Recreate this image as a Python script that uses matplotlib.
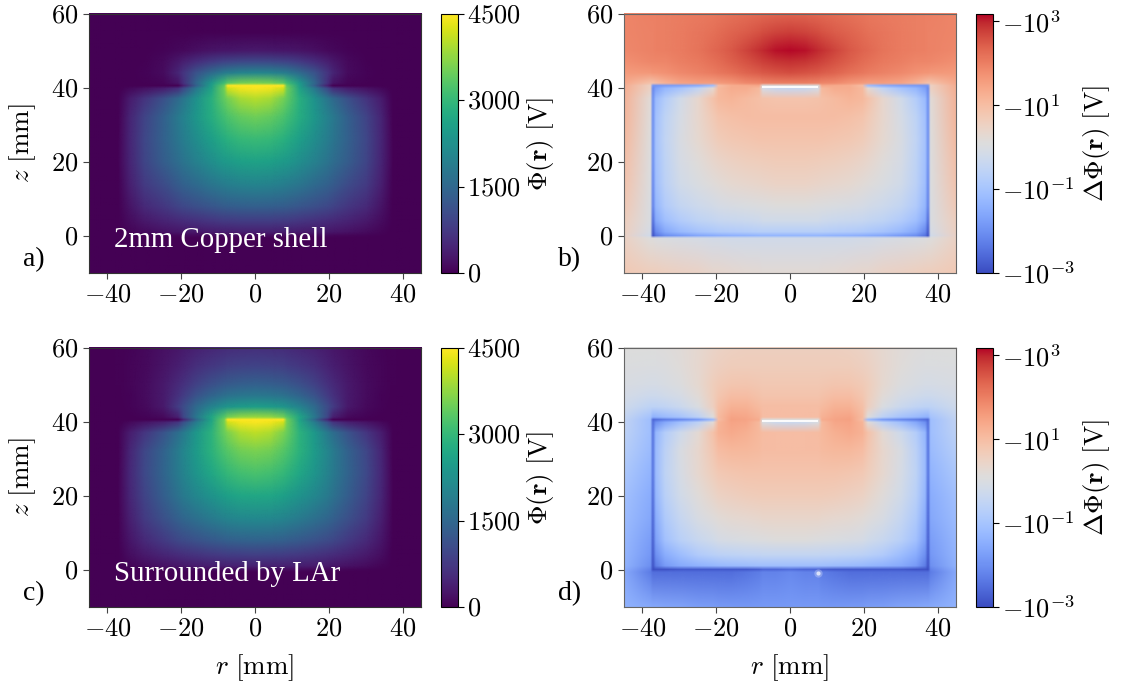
import numpy as np
import matplotlib
matplotlib.use("Agg")
import matplotlib.pyplot as plt
from matplotlib.colors import LogNorm, Normalize
from matplotlib.image import NonUniformImage

plt.rcParams['mathtext.fontset'] = 'cm'
plt.rcParams['font.family'] = 'Liberation Serif'

# grid nodes (r mirrored about 0), outer nodes just past the axes
r_nodes = [0, 4, 7.5, 8.5, 12, 16, 19.5, 21, 25, 30, 34, 36.5, 37.3, 38, 46]
z_nodes = [-11, -0.7, 0, 1, 4, 8, 14, 20, 26, 32, 37, 39.8, 40.5, 41.2, 44, 47, 50, 55, 61]

# potential [V], rows follow z_nodes, columns follow r_nodes
phi_a = [
    [0, 0, 0, 0, 0, 0, 0, 0, 0, 0, 0, 0, 0, 0, 0],
    [0, 0, 0, 0, 0, 0, 0, 0, 0, 0, 0, 0, 0, 0, 0],
    [130, 130, 125, 120, 110, 100, 90, 80, 60, 40, 18, 4, 0, 0, 0],
    [400, 395, 385, 380, 350, 315, 285, 265, 215, 140, 65, 15, 0, 0, 0],
    [820, 810, 790, 775, 720, 650, 580, 540, 440, 300, 155, 45, 0, 0, 0],
    [1400, 1380, 1340, 1320, 1230, 1100, 990, 920, 730, 530, 260, 70, 0, 0, 0],
    [2050, 2020, 1950, 1910, 1770, 1580, 1410, 1310, 1050, 780, 390, 105, 0, 0, 0],
    [2600, 2560, 2460, 2410, 2220, 1970, 1740, 1610, 1320, 940, 470, 125, 0, 0, 0],
    [3050, 2990, 2850, 2780, 2520, 2210, 1900, 1750, 1400, 950, 490, 130, 0, 0, 0],
    [3500, 3420, 3220, 3120, 2780, 2380, 2000, 1820, 1380, 930, 470, 120, 0, 0, 0],
    [4000, 3900, 3560, 3400, 2820, 2300, 1760, 1550, 1100, 680, 340, 85, 0, 0, 0],
    [4450, 4400, 4200, 3500, 2600, 1800, 1000, 600, 350, 200, 100, 20, 0, 0, 0],
    [4500, 4500, 4500, 3400, 2500, 1400, 400, 30, 20, 10, 5, 0, 0, 0, 0],
    [3600, 3550, 3350, 3100, 2400, 1500, 650, 250, 60, 20, 5, 0, 0, 0, 0],
    [2050, 2010, 1900, 1830, 1550, 1150, 700, 460, 140, 40, 8, 0, 0, 0, 0],
    [1000, 980, 930, 900, 770, 590, 390, 290, 120, 30, 5, 0, 0, 0, 0],
    [300, 295, 280, 270, 230, 180, 120, 90, 50, 15, 0, 0, 0, 0, 0],
    [10, 10, 10, 10, 8, 6, 5, 4, 2, 0, 0, 0, 0, 0, 0],
    [0, 0, 0, 0, 0, 0, 0, 0, 0, 0, 0, 0, 0, 0, 0],
]

phi_c = [
    [0, 0, 0, 0, 0, 0, 0, 0, 0, 0, 0, 0, 0, 0, 0],
    [0, 0, 0, 0, 0, 0, 0, 0, 0, 0, 0, 0, 0, 0, 0],
    [150, 150, 145, 140, 130, 115, 100, 90, 70, 45, 20, 5, 0, 0, 0],
    [420, 415, 405, 400, 370, 335, 300, 280, 225, 150, 70, 18, 0, 0, 0],
    [850, 840, 820, 800, 750, 680, 610, 570, 460, 320, 170, 50, 0, 0, 0],
    [1450, 1430, 1390, 1370, 1280, 1160, 1040, 970, 770, 540, 280, 80, 0, 0, 0],
    [2150, 2120, 2050, 2010, 1870, 1680, 1500, 1400, 1110, 780, 400, 110, 0, 0, 0],
    [2700, 2660, 2560, 2510, 2320, 2080, 1830, 1700, 1340, 930, 480, 130, 0, 0, 0],
    [3200, 3140, 3000, 2920, 2660, 2340, 2020, 1860, 1450, 990, 510, 135, 0, 0, 0],
    [3600, 3520, 3320, 3220, 2880, 2470, 2070, 1880, 1420, 960, 480, 120, 0, 0, 0],
    [4050, 3950, 3620, 3460, 2900, 2400, 1850, 1620, 1150, 720, 360, 90, 0, 0, 0],
    [4450, 4400, 4200, 3550, 2700, 1900, 1100, 700, 400, 230, 110, 20, 0, 0, 0],
    [4500, 4500, 4500, 3500, 2600, 1550, 500, 40, 30, 15, 8, 0, 0, 0, 0],
    [3800, 3750, 3550, 3300, 2650, 1800, 950, 400, 120, 50, 15, 5, 0, 0, 0],
    [2500, 2460, 2350, 2280, 2000, 1550, 1050, 800, 300, 110, 40, 15, 8, 8, 0],
    [1800, 1770, 1700, 1650, 1450, 1150, 800, 650, 320, 130, 50, 20, 15, 15, 0],
    [1400, 1370, 1300, 1260, 1100, 880, 640, 530, 300, 140, 55, 25, 20, 20, 0],
    [900, 880, 850, 820, 730, 600, 450, 380, 240, 120, 55, 25, 20, 20, 0],
    [550, 540, 520, 500, 450, 380, 300, 260, 180, 100, 50, 25, 20, 20, 0],
]

# log10 of the potential difference, same layout
dphi_b = [
    [.25, .25, .25, .27, .3, .35, .4, .4, .5, .55, .6, .65, .65, .65, .75],
    [-.2, -.2, -.2, -.2, -.2, -.2, -.15, -.15, -.1, -.05, 0, .05, .1, .1, .55],
    [-1.3, -1.3, -1.3, -1.3, -1.35, -1.4, -1.45, -1.5, -1.6, -1.8, -2, -2.4, -2.9, -.2, .55],
    [-.7, -.7, -.7, -.7, -.75, -.8, -.85, -.9, -1, -1.25, -1.6, -2.1, -2.8, -.1, .6],
    [-.2, -.2, -.2, -.25, -.3, -.35, -.4, -.45, -.55, -.8, -1.1, -1.6, -2.5, 0, .65],
    [.1, .1, .05, .05, 0, -.05, -.1, -.15, -.25, -.45, -.8, -1.3, -2.2, 0, .8],
    [.45, .45, .42, .4, .35, .3, .2, .15, 0, -.2, -.6, -1.1, -2.1, .05, .95],
    [.65, .65, .62, .6, .58, .52, .42, .35, .15, -.1, -.55, -1.05, -2, .08, 1.05],
    [.85, .85, .85, .85, .8, .75, .65, .55, .3, -.05, -.5, -1, -2, .1, 1.15],
    [1, 1, 1, 1, 1, .95, .85, .7, .35, -.1, -.55, -1.05, -2, .15, 1.25],
    [.85, .85, .9, .95, 1.05, 1.15, 1.1, .9, .35, -.2, -.75, -1.2, -2, .2, 1.3],
    [-.4, -.35, -.1, 1.1, 1.3, 1.3, 1.1, .3, -.5, -1, -1.3, -1.7, -2.1, .5, 1.35],
    [.1, .1, .1, 1.4, 1.35, 1.3, 1, -1.1, -1.5, -1.7, -1.8, -1.9, -1.9, .5, 1.4],
    [2, 2, 1.95, 1.9, 1.85, 1.7, 1.6, 1.55, 1.55, 1.45, 1.2, 1, .9, .9, 1.45],
    [2.6, 2.55, 2.5, 2.45, 2.35, 2.2, 2.1, 2.05, 1.95, 1.85, 1.75, 1.7, 1.7, 1.65, 1.6],
    [2.9, 2.85, 2.75, 2.7, 2.55, 2.4, 2.25, 2.2, 2.08, 2, 1.92, 1.9, 1.88, 1.88, 1.75],
    [3.15, 3.1, 2.95, 2.9, 2.7, 2.5, 2.35, 2.3, 2.15, 2.05, 2, 1.97, 1.95, 1.95, 1.85],
    [2.75, 2.7, 2.6, 2.55, 2.45, 2.35, 2.25, 2.2, 2.12, 2.05, 2, 1.97, 1.96, 1.96, 1.92],
    [2.25, 2.25, 2.22, 2.22, 2.2, 2.15, 2.1, 2.08, 2.05, 2.02, 2, 1.98, 1.98, 1.98, 1.9],
]

dphi_d = [
    [-1.8, -1.8, -1.8, -1.8, -1.8, -1.78, -1.75, -1.72, -1.68, -1.6, -1.55, -1.5, -1.5, -1.5, -1.35],
    [-2.1, -2.2, -2.2, -2.3, -2.4, -2.5, -2.5, -2.5, -2.5, -2.5, -2.5, -2.5, -2.5, -2.3, -1.45],
    [-2.5, -2.6, -2.6, -2.7, -2.8, -2.8, -2.8, -2.8, -2.8, -2.8, -2.9, -2.9, -2.95, -2.2, -1.4],
    [-1.1, -1.1, -1.1, -1.1, -1.15, -1.2, -1.25, -1.3, -1.4, -1.55, -1.8, -2.3, -2.9, -2, -1.3],
    [-.45, -.45, -.45, -.47, -.5, -.55, -.6, -.65, -.8, -1.15, -1.5, -2, -2.8, -1.85, -1.25],
    [.1, .1, .05, .05, 0, -.05, -.1, -.2, -.35, -.65, -1.05, -1.7, -2.7, -1.75, -1.2],
    [.4, .4, .38, .36, .32, .28, .2, .12, -.05, -.4, -.85, -1.5, -2.6, -1.6, -1.1],
    [.65, .65, .65, .65, .62, .56, .48, .38, .15, -.2, -.65, -1.3, -2.5, -1.5, -1],
    [.85, .85, .85, .85, .85, .8, .72, .6, .32, -.1, -.55, -1.2, -2.4, -1.35, -.85],
    [1, 1, 1, 1.05, 1.1, 1.1, 1, .78, .35, -.05, -.6, -1.2, -2.4, -1.2, -.65],
    [1, 1, 1.02, 1.1, 1.25, 1.35, 1.2, .9, .25, -.25, -.75, -1.3, -2.4, -1.1, -.5],
    [-.3, -.25, 0, 1.1, 1.4, 1.45, 1.15, .2, -.6, -1.1, -1.6, -2, -2.5, -1.1, -.42],
    [.1, .1, .1, 1.3, 1.45, 1.5, 1, -1.2, -1.8, -2.1, -2.3, -2.5, -2.6, -1.1, -.4],
    [1, 1, 1, 1.2, 1.4, 1.45, 1.05, .1, -.6, -1, -1.2, -1.35, -1.4, -1, -.35],
    [1, 1, 1, 1.05, 1.2, 1.2, .95, .55, 0, -.3, -.5, -.55, -.55, -.55, -.2],
    [.85, .85, .85, .9, 1, 1, .8, .6, .2, -.1, -.2, -.25, -.25, -.25, -.1],
    [.75, .75, .75, .78, .82, .8, .7, .6, .3, .05, -.05, -.1, -.1, -.1, -.02],
    [.62, .62, .62, .64, .64, .62, .55, .5, .32, .15, .05, .02, .02, .02, .05],
    [.55, .55, .55, .55, .55, .52, .45, .42, .3, .18, .12, .1, .1, .1, .1],
]

slit_r = [-7.5, 7.5]
slit_z = [40.4, 40.4]
spot_r = [7.5]
spot_z = [-0.7]

x_ticks = [-40, -20, 0, 20, 40]
y_ticks = [0, 20, 40, 60]
phi_ticks = [0, 1500, 3000, 4500]
dphi_ticks = [1e-3, 1e-1, 1e1, 1e3]
dphi_labels = [r"$-10^{-3}$", r"$-10^{-1}$", r"$-10^{1}$", r"$-10^{3}$"]

W, H = 1121, 687


def box(x0, y0, x1, y1):
    return [x0 / W, 1 - y1 / H, (x1 - x0) / W, (y1 - y0) / H]


def mirror(table):
    t = np.array(table, dtype=float)
    return np.hstack([t[:, :0:-1], t])


r_full = np.concatenate([-np.array(r_nodes[:0:-1]), r_nodes])
z_full = np.array(z_nodes, dtype=float)

fig = plt.figure(figsize=(W / 100, H / 100), dpi=100)

tick_size = 19
label_size = 19.5
panels = [
    (89, 14, phi_a, False, "a)", "2mm Copper shell", False),
    (624, 14, dphi_b, True, "b)", None, False),
    (89, 348, phi_c, False, "c)", "Surrounded by LAr", True),
    (624, 348, dphi_d, True, "d)", None, True),
]

for x0, y0, table, is_log, tag, note, bottom in panels:
    ax = fig.add_axes(box(x0, y0, x0 + 332, y0 + 259))
    cax = fig.add_axes(box(x0 + 352, y0, x0 + 368.5, y0 + 259))
    if is_log:
        values = 10 ** mirror(table)
        norm = LogNorm(1e-3, 1500)
        cmap = "coolwarm"
    else:
        values = mirror(table)
        norm = Normalize(0, 4500)
        cmap = "viridis"
        ax.set_facecolor(plt.get_cmap(cmap)(0))
    field = NonUniformImage(ax, interpolation="bilinear", norm=norm, cmap=cmap)
    field.set_data(r_full, z_full, values)
    ax.add_image(field)
    ax.set_xlim(-45, 45)
    ax.set_ylim(-10, 60)
    ax.set_xticks(x_ticks, [f"${v}$" for v in x_ticks])
    ax.set_yticks(y_ticks, [f"${v}$" for v in y_ticks])
    ax.tick_params(labelsize=tick_size, length=4, width=0.8, color="#444444", pad=4)
    for s in ax.spines.values():
        s.set_color("#333333" if not is_log else "#666666")

    if is_log:
        ax.plot(slit_r, slit_z, color="white", lw=1.3, solid_capstyle="butt")
    if tag == "d)":
        ax.plot(spot_r, spot_z, "o", color="white", ms=6, alpha=0.25, mew=0)
        ax.plot(spot_r, spot_z, "o", color="white", ms=3, alpha=0.7, mew=0)

    if note:
        ax.text(-38.2, -1, note, color="white", fontsize=20.8, va="center", ha="left")
    if not is_log:
        ax.set_ylabel(r"$z\ [\mathrm{mm}]$", fontsize=label_size, labelpad=9)
    if bottom:
        ax.set_xlabel(r"$r\ [\mathrm{mm}]$", fontsize=label_size, labelpad=9)

    cb = fig.colorbar(field, cax=cax)
    cb.minorticks_off()
    if is_log:
        cb.set_ticks(dphi_ticks, labels=dphi_labels)
        cb.set_label(r"$\Delta\Phi(\mathbf{r})\ [\mathrm{V}]$", fontsize=label_size, labelpad=4)
    else:
        cb.set_ticks(phi_ticks, labels=[f"${v}$" for v in phi_ticks])
        cb.set_label(r"$\Phi(\mathbf{r})\ [\mathrm{V}]$", fontsize=label_size, labelpad=3)
    cb.ax.tick_params(labelsize=tick_size, length=4, width=0.8, pad=3)
    cb.outline.set_linewidth(0.8)

    fig.text((x0 - 66) / W, 1 - (y0 + 246) / H, tag, fontsize=20, va="center", ha="left")

fig.savefig("out.png", dpi=100)
